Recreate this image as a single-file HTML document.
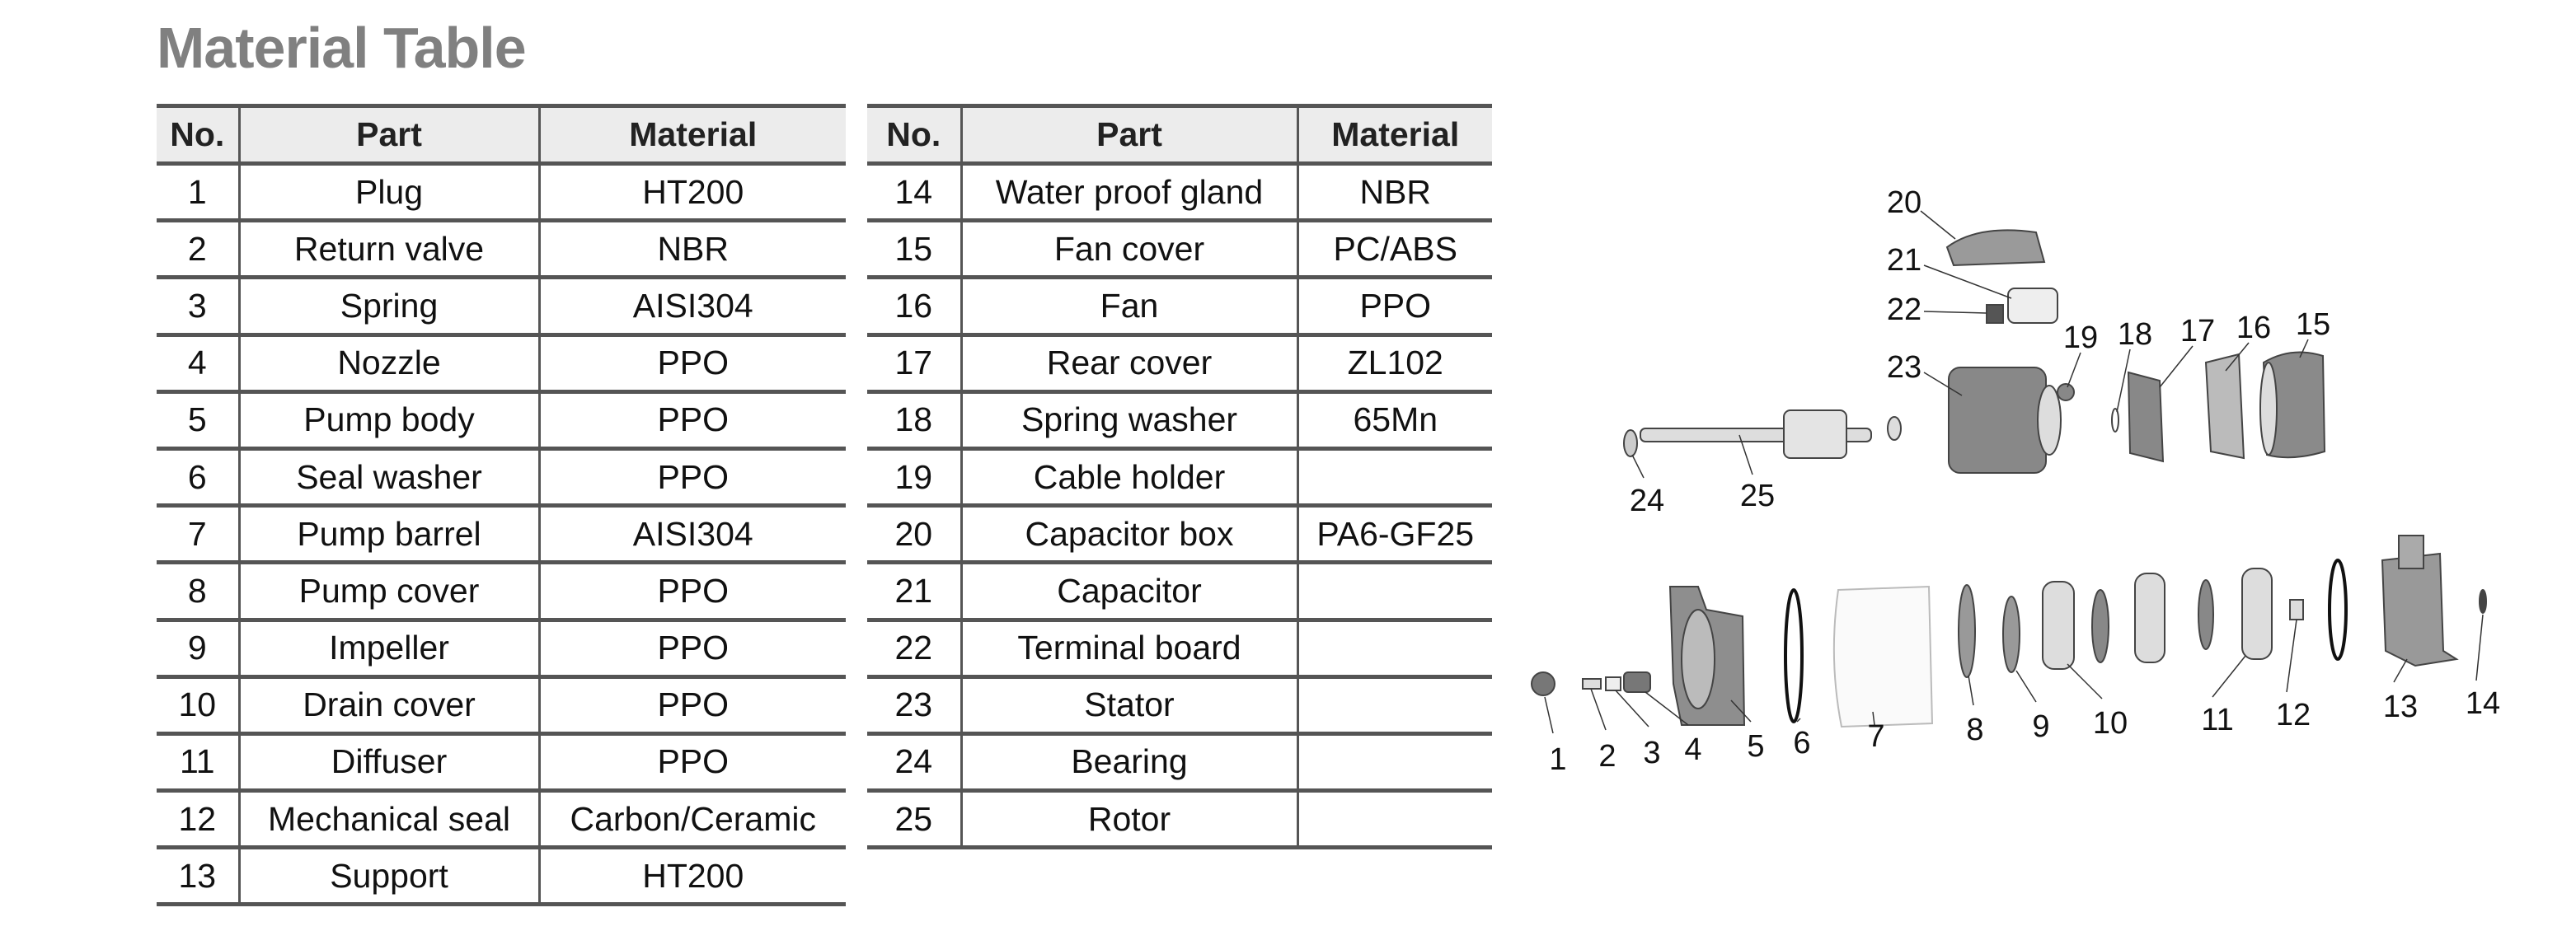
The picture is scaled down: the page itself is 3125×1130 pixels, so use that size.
<!DOCTYPE html>
<html><head><meta charset="utf-8"><style>
body{margin:0;width:3125px;height:1130px;background:#fff;position:relative;overflow:hidden;font-family:"Liberation Sans",sans-serif;}
.title{position:absolute;left:190px;top:18px;font-size:70px;font-weight:bold;color:#808080;letter-spacing:-1px;}
table{position:absolute;top:126px;border-collapse:collapse;table-layout:fixed;}
td,th{height:64.2px;border-top:5px solid #555;border-bottom:5px solid #555;border-left:3px solid #555;text-align:center;font-size:41px;color:#111;padding:0;white-space:nowrap;font-weight:normal;}
th{background:#ececec;font-weight:bold;height:65px;color:#222;}
td:first-child,th:first-child{border-left:none;}
.lbl{font-family:"Liberation Sans",sans-serif;font-size:38px;fill:#111;}
</style></head><body>
<div class="title">Material Table</div>
<table style="left:190px;width:836px">
<colgroup><col style="width:100px"><col style="width:364px"><col style="width:372px"></colgroup>
<tr><th>No.</th><th>Part</th><th>Material</th></tr>
<tr><td>1</td><td>Plug</td><td>HT200</td></tr>
<tr><td>2</td><td>Return valve</td><td>NBR</td></tr>
<tr><td>3</td><td>Spring</td><td>AISI304</td></tr>
<tr><td>4</td><td>Nozzle</td><td>PPO</td></tr>
<tr><td>5</td><td>Pump body</td><td>PPO</td></tr>
<tr><td>6</td><td>Seal washer</td><td>PPO</td></tr>
<tr><td>7</td><td>Pump barrel</td><td>AISI304</td></tr>
<tr><td>8</td><td>Pump cover</td><td>PPO</td></tr>
<tr><td>9</td><td>Impeller</td><td>PPO</td></tr>
<tr><td>10</td><td>Drain cover</td><td>PPO</td></tr>
<tr><td>11</td><td>Diffuser</td><td>PPO</td></tr>
<tr><td>12</td><td>Mechanical seal</td><td>Carbon/Ceramic</td></tr>
<tr><td>13</td><td>Support</td><td>HT200</td></tr>
</table>
<table style="left:1052px;width:758px">
<colgroup><col style="width:114px"><col style="width:408px"><col style="width:236px"></colgroup>
<tr><th>No.</th><th>Part</th><th>Material</th></tr>
<tr><td>14</td><td>Water proof gland</td><td>NBR</td></tr>
<tr><td>15</td><td>Fan cover</td><td>PC/ABS</td></tr>
<tr><td>16</td><td>Fan</td><td>PPO</td></tr>
<tr><td>17</td><td>Rear cover</td><td>ZL102</td></tr>
<tr><td>18</td><td>Spring washer</td><td>65Mn</td></tr>
<tr><td>19</td><td>Cable holder</td><td></td></tr>
<tr><td>20</td><td>Capacitor box</td><td>PA6-GF25</td></tr>
<tr><td>21</td><td>Capacitor</td><td></td></tr>
<tr><td>22</td><td>Terminal board</td><td></td></tr>
<tr><td>23</td><td>Stator</td><td></td></tr>
<tr><td>24</td><td>Bearing</td><td></td></tr>
<tr><td>25</td><td>Rotor</td><td></td></tr>
</table>
<svg style="position:absolute;left:0;top:0" width="3125" height="1130">
<g stroke="#444" stroke-width="2">
<path d="M2362 300 Q2400 272 2470 282 L2480 318 L2370 322 Z" fill="#9a9a9a"/>
<rect x="2436" y="350" width="60" height="42" rx="8" fill="#eee"/>
<rect x="2410" y="370" width="20" height="22" fill="#555"/>
<rect x="2364" y="446" width="118" height="128" rx="14" fill="#888"/>
<ellipse cx="2486" cy="510" rx="14" ry="42" fill="#ddd"/>
<circle cx="2506" cy="476" r="10" fill="#888"/>
<ellipse cx="2566" cy="510" rx="4" ry="14" fill="#fff"/>
<path d="M2582 452 L2620 462 L2624 560 L2584 550 Z" fill="#888"/>
<path d="M2676 440 L2716 430 L2722 556 L2682 548 Z" fill="#bbb"/>
<path d="M2746 440 Q2780 420 2818 432 L2820 548 Q2780 560 2750 552 Z" fill="#8a8a8a"/>
<ellipse cx="2752" cy="496" rx="10" ry="56" fill="#ddd"/>
<rect x="1990" y="520" width="280" height="16" rx="6" fill="#ddd"/>
<rect x="2164" y="498" width="76" height="58" rx="8" fill="#e4e4e4"/>
<ellipse cx="1978" cy="538" rx="8" ry="16" fill="#ccc"/>
<ellipse cx="2298" cy="520" rx="8" ry="14" fill="#ddd"/>
<circle cx="1872" cy="830" r="14" fill="#777"/>
<rect x="1920" y="824" width="22" height="12" fill="#ddd"/>
<rect x="1948" y="822" width="18" height="16" fill="#eee"/>
<rect x="1970" y="816" width="32" height="24" rx="5" fill="#777"/>
<path d="M2026 712 L2060 712 L2070 740 L2114 748 L2116 880 L2040 880 L2030 830 Z" fill="#8e8e8e"/>
<ellipse cx="2060" cy="800" rx="20" ry="60" fill="#bbb"/>
<ellipse cx="2176" cy="796" rx="10" ry="80" fill="none" stroke="#111" stroke-width="4"/>
<path d="M2230 716 L2340 712 L2344 878 L2234 882 Q2218 800 2230 716 Z" fill="#fafafa" stroke="#bbb"/>
<ellipse cx="2386" cy="766" rx="10" ry="56" fill="#999"/>
<ellipse cx="2440" cy="770" rx="10" ry="46" fill="#999"/>
<rect x="2478" y="706" width="38" height="106" rx="14" fill="#ddd"/>
<ellipse cx="2548" cy="760" rx="10" ry="44" fill="#888"/>
<rect x="2590" y="696" width="36" height="108" rx="14" fill="#ddd"/>
<ellipse cx="2676" cy="746" rx="9" ry="42" fill="#888"/>
<rect x="2720" y="690" width="36" height="110" rx="14" fill="#ddd"/>
<rect x="2778" y="728" width="16" height="24" fill="#ddd"/>
<ellipse cx="2836" cy="740" rx="10" ry="60" fill="none" stroke="#111" stroke-width="4"/>
<path d="M2890 680 L2960 672 L2964 790 L2980 800 L2930 808 L2894 790 Z" fill="#999"/>
<rect x="2910" y="650" width="30" height="40" fill="#aaa"/>
<ellipse cx="3012" cy="730" rx="4" ry="14" fill="#444"/>
</g>
<g stroke="#333" stroke-width="1.5" fill="none">
<line x1="2330" y1="256" x2="2372" y2="290"/><line x1="2334" y1="322" x2="2440" y2="362"/>
<line x1="2334" y1="378" x2="2410" y2="380"/><line x1="2334" y1="452" x2="2380" y2="480"/>
<line x1="2524" y1="428" x2="2508" y2="470"/><line x1="2584" y1="424" x2="2568" y2="500"/>
<line x1="2660" y1="420" x2="2620" y2="470"/><line x1="2728" y1="416" x2="2700" y2="450"/>
<line x1="2800" y1="412" x2="2790" y2="434"/><line x1="1994" y1="580" x2="1980" y2="552"/>
<line x1="2126" y1="576" x2="2110" y2="528"/>
<line x1="1884" y1="890" x2="1874" y2="846"/><line x1="1948" y1="886" x2="1930" y2="836"/>
<line x1="2000" y1="882" x2="1960" y2="838"/><line x1="2048" y1="880" x2="1996" y2="840"/>
<line x1="2124" y1="876" x2="2100" y2="850"/><line x1="2184" y1="872" x2="2180" y2="876"/>
<line x1="2272" y1="864" x2="2274" y2="880"/><line x1="2394" y1="856" x2="2388" y2="820"/>
<line x1="2470" y1="852" x2="2446" y2="814"/><line x1="2550" y1="848" x2="2508" y2="806"/>
<line x1="2684" y1="846" x2="2724" y2="796"/><line x1="2774" y1="840" x2="2786" y2="752"/>
<line x1="2904" y1="828" x2="2920" y2="800"/><line x1="3004" y1="826" x2="3012" y2="746"/>
</g>
<g class="lbl" text-anchor="middle">
<text x="2310" y="258">20</text><text x="2310" y="328">21</text><text x="2310" y="388">22</text>
<text x="2310" y="458">23</text><text x="2524" y="422">19</text><text x="2590" y="418">18</text>
<text x="2666" y="414">17</text><text x="2734" y="410">16</text><text x="2806" y="406">15</text>
<text x="1998" y="620">24</text><text x="2132" y="614">25</text>
<text x="1890" y="934">1</text><text x="1950" y="930">2</text><text x="2004" y="926">3</text>
<text x="2054" y="922">4</text><text x="2130" y="918">5</text><text x="2186" y="914">6</text>
<text x="2276" y="906">7</text><text x="2396" y="898">8</text><text x="2476" y="894">9</text>
<text x="2560" y="890">10</text><text x="2690" y="886">11</text><text x="2782" y="880">12</text>
<text x="2912" y="870">13</text><text x="3012" y="866">14</text>
</g>
</svg>
</body></html>
